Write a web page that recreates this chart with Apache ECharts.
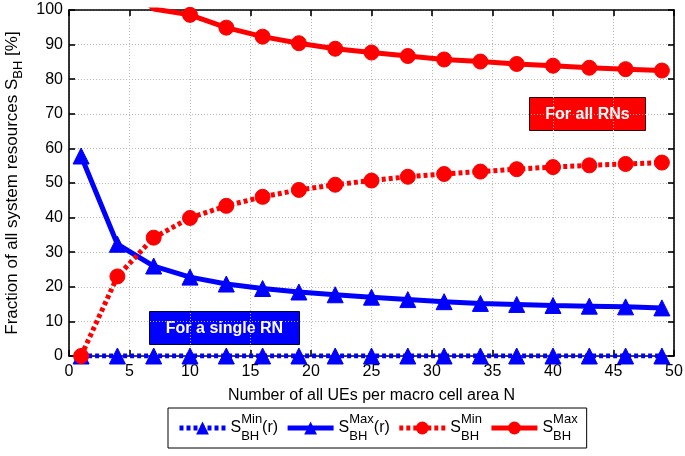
<!DOCTYPE html>
<html>
<head>
<meta charset="utf-8">
<script src="https://cdn.jsdelivr.net/npm/echarts@6/dist/echarts.min.js"></script>
<style>
html,body{margin:0;padding:0;background:#fff;}
#chart{width:685px;height:456px;}
</style>
</head>
<body>
<div id="chart"></div>
<script>
// ---- data ----
const xValues = [1, 4, 7, 10, 13, 16, 19, 22, 25, 28, 31, 34, 37, 40, 43, 46, 49];
const sMinSingle = [0, 0, 0, 0, 0, 0, 0, 0, 0, 0, 0, 0, 0, 0, 0, 0, 0];
const sMaxSingle = [57.8, 32.3, 26.0, 22.8, 20.8, 19.5, 18.5, 17.7, 17.0, 16.3, 15.7, 15.2, 14.9, 14.6, 14.4, 14.2, 13.9];
const sMinAll = [0, 23.0, 34.2, 39.9, 43.4, 46.0, 48.0, 49.5, 50.7, 51.8, 52.6, 53.3, 54.0, 54.6, 55.1, 55.5, 55.9];
const sMaxAll = [160, 110, 100.3, 98.6, 94.9, 92.3, 90.4, 88.8, 87.7, 86.7, 85.7, 85.1, 84.4, 83.9, 83.3, 82.9, 82.5];
const xTicks = [0, 5, 10, 15, 20, 25, 30, 35, 40, 45, 50];
const yTicks = [0, 10, 20, 30, 40, 50, 60, 70, 80, 90, 100];
const seriesNames = ['minSingle', 'maxSingle', 'minAll', 'maxAll'];
const legendLabels = {
  minSingle: 'S{sub|BH}{sup|Min}{base|(r)}',
  maxSingle: 'S{sub|BH}{sup|Max}{base|(r)}',
  minAll: 'S{sub|BH}{sup|Min}',
  maxAll: 'S{sub|BH}{sup|Max}'
};
const xTitle = 'Number of all UEs per macro cell area N';

const pairs = (ys) => xValues.map((x, i) => [x, ys[i]]);
const FONT = 'Liberation Sans, Arial, sans-serif';
const BLUE = '#0000ff';
const RED = '#ff0000';

const chart = echarts.init(document.getElementById('chart'), null, {renderer: 'canvas'});

const gridLine = {show: true, lineStyle: {color: '#b8b8b8', type: [1, 2], width: 1}};
const frameAxisLine = {show: true, onZero: false, lineStyle: {color: '#000', width: 1.6}};
const inTicks = {show: true, inside: true, length: 6, lineStyle: {color: '#000', width: 1.6}};

function lineSeries(name, data, color, dotted, symbol) {
  return {
    name: name,
    type: 'line',
    data: pairs(data),
    clip: true,
    symbol: symbol,
    symbolSize: symbol === 'circle' ? 15 : 16,
    showAllSymbol: true,
    itemStyle: {color: color, borderColor: color},
    lineStyle: {color: color, width: 5, type: dotted ? [4, 3] : 'solid', cap: 'butt'},
    emphasis: {disabled: true},
    animation: false
  };
}

const option = {
  animation: false,
  backgroundColor: '#fff',
  grid: {left: 69, right: 11, top: 10, bottom: 100, containLabel: false, outerBoundsMode: 'none'},
  xAxis: [{
    type: 'value', min: 0, max: 50, interval: 5,
    axisLine: frameAxisLine, axisTick: inTicks,
    axisLabel: {color: '#000', fontSize: 16, fontFamily: FONT, margin: 8,
      formatter: v => xTicks.includes(v) ? String(v) : ''},
    splitLine: gridLine,
    name: xTitle, nameLocation: 'middle', nameGap: 32,
    nameTextStyle: {color: '#000', fontSize: 16, fontFamily: FONT}
  }, {
    type: 'value', min: 0, max: 50, interval: 5, position: 'top',
    axisLine: frameAxisLine, axisTick: inTicks, axisLabel: {show: false}, splitLine: {show: false}
  }],
  yAxis: [{
    type: 'value', min: 0, max: 100, interval: 10,
    axisLine: frameAxisLine, axisTick: inTicks,
    axisLabel: {color: '#000', fontSize: 16, fontFamily: FONT, margin: 6,
      formatter: v => yTicks.includes(v) ? String(v) : ''},
    splitLine: gridLine,
    name: 'Fraction of all system resources S{sub|BH} [%]',
    nameLocation: 'middle', nameRotate: 90, nameGap: 41,
    nameTextStyle: {color: '#000', fontSize: 17, fontFamily: FONT,
      rich: {sub: {fontSize: 13, fontFamily: FONT, color: '#000', verticalAlign: 'bottom', lineHeight: 26, padding: [7, 0, 0, 0]}}}
  }, {
    type: 'value', min: 0, max: 100, interval: 10, position: 'right',
    axisLine: frameAxisLine, axisTick: inTicks, axisLabel: {show: false}, splitLine: {show: false}
  }],
  legend: {
    left: 168, top: 408, width: 420,
    orient: 'horizontal',
    borderColor: '#000', borderWidth: 1, padding: [5, 9, 5, 9],
    itemWidth: 46, itemHeight: 16, itemGap: 7,
    data: seriesNames,
    formatter: n => legendLabels[n],
    lineStyle: {width: 'inherit'},
    textStyle: {
      color: '#000', fontSize: 16, fontFamily: FONT, lineHeight: 30,
      rich: {
        base: {fontSize: 16, fontFamily: FONT, color: '#000'},
        sub: {fontSize: 13, fontFamily: FONT, color: '#000', width: 0, verticalAlign: 'bottom', lineHeight: 30},
        sup: {fontSize: 13, fontFamily: FONT, color: '#000', verticalAlign: 'top', lineHeight: 30}
      }
    }
  },
  graphic: [
    {
      type: 'group', left: 149, top: 311,
      children: [
        {type: 'rect', shape: {x: 0, y: 0, width: 150, height: 33},
          style: {fill: BLUE, stroke: '#000033', lineWidth: 1}},
        {type: 'text', x: 75, y: 17,
          style: {text: 'For a single RN', fill: '#fff', font: 'bold 16px ' + FONT, align: 'center', verticalAlign: 'middle'}}
      ]
    },
    {
      type: 'group', left: 529, top: 97,
      children: [
        {type: 'rect', shape: {x: 0, y: 0, width: 116, height: 33},
          style: {fill: RED, stroke: '#330000', lineWidth: 1}},
        {type: 'text', x: 58, y: 17,
          style: {text: 'For all RNs', fill: '#fff', font: 'bold 16px ' + FONT, align: 'center', verticalAlign: 'middle'}}
      ]
    }
  ],
  series: [
    lineSeries('minSingle', sMinSingle, BLUE, true, 'triangle'),
    lineSeries('maxSingle', sMaxSingle, BLUE, false, 'triangle'),
    lineSeries('minAll', sMinAll, RED, true, 'circle'),
    lineSeries('maxAll', sMaxAll, RED, false, 'circle')
  ]
};
chart.setOption(option);
</script>
</body>
</html>
